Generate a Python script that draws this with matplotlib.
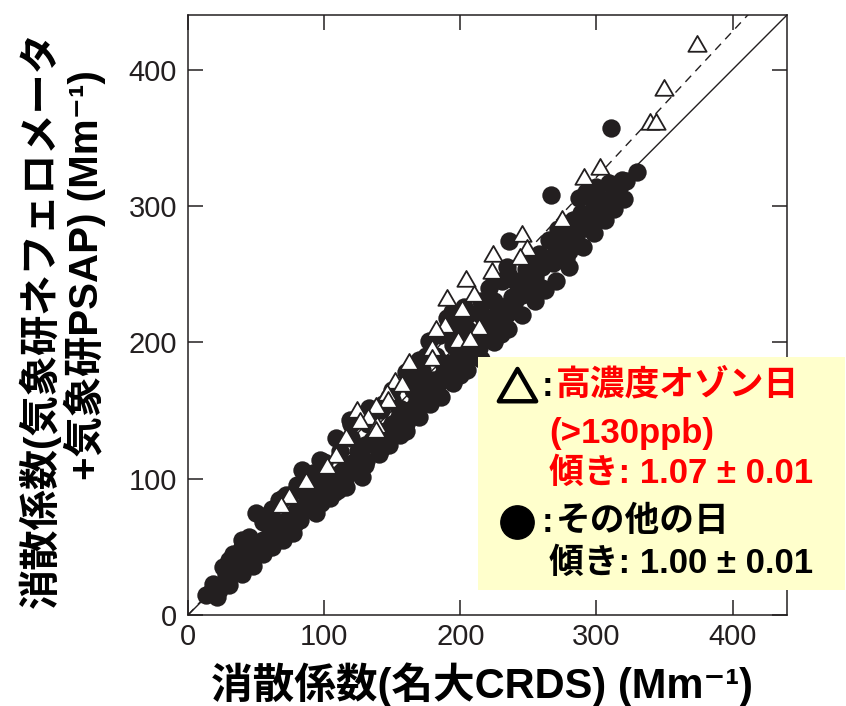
import numpy as np
import matplotlib
matplotlib.use("Agg")
import matplotlib.pyplot as plt
from matplotlib.patches import Rectangle
from matplotlib.path import Path
from matplotlib.lines import Line2D

plt.rcParams['font.family'] = ['Liberation Sans', 'Noto Sans CJK JP', 'DejaVu Sans']

# 高濃度オゾン日 (>130ppb)
tri_x = [374, 350, 339, 344, 303, 291, 275, 245, 249, 224, 244, 223, 204, 190, 210,
         201, 214, 189, 198, 207, 182, 179, 179, 162, 152, 157, 146, 147, 124, 138,
         132, 126, 139, 138, 116, 109, 102, 87, 74, 68]
tri_y = [417, 385, 360, 360, 327, 320, 289, 278, 268, 263, 261, 251, 245, 231, 234,
         223, 210, 211, 200, 201, 208, 194, 187, 184, 170, 168, 161, 156, 149, 152,
         144, 141, 138, 134, 129, 116, 108, 97, 86, 79]

# その他の日
dot_x = [311, 330, 267, 236,
         292, 300, 309, 318, 304, 304, 287, 298, 314, 283, 289, 319, 322,
         278, 287, 292, 265, 275, 280, 278, 270, 272,
         248, 252, 234, 231, 221, 234, 216, 249, 238, 248, 226, 214, 203, 194, 221, 234,
         190, 201, 219, 214, 197, 177, 187, 170, 165, 177, 155, 170, 207, 196, 185, 188,
         163, 141, 126, 114, 99, 89, 80, 65, 70, 84, 97, 109, 119, 133, 148, 128, 116,
         104, 94, 153, 165, 111,
         50, 67, 80, 82, 77, 60, 45, 50, 33, 38, 26, 18, 16, 23, 31, 40, 55, 65, 29, 21, 13,
         20, 25, 28, 35, 36, 42, 45, 48, 52, 58, 62, 70, 72, 75, 85, 88, 92, 95, 100, 105,
         108, 112, 118, 122, 125, 130, 135, 138, 145, 150, 155, 158, 160, 168, 172, 175,
         180, 183, 190, 192, 198, 205, 208, 212, 218, 225, 228, 240, 245, 255, 260, 262,
         268, 285, 295, 300, 305, 310, 315,
         30, 40, 48, 55, 62, 70, 78, 90, 98, 108, 115, 120, 130, 140, 148, 160, 170, 178,
         186, 195, 205, 215, 225, 235, 245, 255, 262, 270, 280, 290, 298, 306, 313, 320,
         30, 40, 55, 60, 75, 90, 100, 112, 120, 132, 142, 150, 165, 172, 182, 195, 205,
         215, 225, 240, 250, 258, 270, 280,
         120, 128, 135, 143, 150, 160, 175, 185, 195, 205, 215, 225, 235, 100, 92, 80,
         72, 62, 58, 131, 110, 142, 156, 168, 200, 230, 260]
dot_y = [357, 325, 308, 274,
         310, 314, 317, 316, 305, 298, 306, 300, 311, 290, 295, 319, 318,
         287, 288, 284, 275, 273, 267, 262, 267, 283,
         254, 242, 255, 245, 240, 226, 229, 242, 233, 238, 219, 222, 226, 222, 218, 221,
         218, 214, 204, 196, 205, 201, 185, 187, 172, 165, 152, 155, 190, 180, 174, 178,
         145, 128, 116, 106, 99, 89, 77, 67, 86, 106, 114, 130, 143, 152, 160, 101, 94,
         86, 75, 138, 152, 99,
         75, 84, 92, 70, 60, 64, 57, 45, 45, 33, 35, 23, 16, 18, 31, 50, 55, 60, 26, 13, 15,
         20, 22, 30, 38, 32, 40, 48, 42, 50, 52, 58, 68, 62, 72, 80, 84, 88, 95, 92, 100,
         98, 104, 110, 112, 120, 125, 128, 124, 135, 140, 145, 150, 140, 158, 162, 170,
         172, 168, 178, 185, 190, 195, 205, 200, 210, 212, 225, 230, 235, 248, 255, 262,
         258, 278, 290, 295, 300, 300, 310,
         22, 30, 36, 45, 50, 55, 66, 78, 82, 90, 100, 105, 110, 118, 125, 135, 145, 155,
         160, 170, 180, 188, 200, 210, 220, 230, 238, 245, 255, 270, 280, 290, 298, 305,
         40, 55, 68, 75, 88, 100, 108, 120, 130, 140, 150, 158, 165, 180, 190, 198, 210,
         220, 230, 245, 258, 265, 275, 282,
         140, 146, 148, 155, 165, 178, 190, 205, 212, 220, 230, 245, 250, 112, 104, 95,
         88, 78, 70, 113, 92, 122, 132, 146, 176, 206, 240]

slope_ozone = 1.07
slope_other = 1.00
ticks = [0, 100, 200, 300, 400]

W, H = 846, 706
ink = '#231f20'

fig = plt.figure(figsize=(W / 100, H / 100), dpi=100)
ax = fig.add_axes([188 / W, 91 / H, 599 / W, 600 / H])

line_x = np.array([0, 440])
ax.plot(line_x, slope_other * line_x, color=ink, lw=1.0, zorder=1)
ax.plot(line_x, slope_ozone * line_x, color=ink, lw=1.0, dashes=(6, 4.5), zorder=1)

ax.scatter(dot_x, dot_y, s=175, marker='o', color=ink, linewidths=0, zorder=2)
tri = Path.unit_regular_polygon(3)
ax.scatter(tri_x, tri_y, s=230, marker=tri, facecolor='white', edgecolor=ink,
           linewidths=1.3, zorder=3)

ax.set_xlim(0, 440)
ax.set_ylim(0, 440)
ax.set_xticks(ticks)
ax.set_yticks(ticks)
ax.tick_params(direction='in', length=11, width=1.1, top=True, right=True,
               labelsize=21, color=ink, labelcolor=ink)
ax.tick_params(axis='x', pad=6)
ax.tick_params(axis='y', pad=8)
for lab in ax.get_xticklabels() + ax.get_yticklabels():
    lab.set_family('Liberation Sans')
for sp in ax.spines.values():
    sp.set_linewidth(1.1)
    sp.set_color(ink)

# axis labels
fig.text(482 / W, 1 - 685 / H, '消散係数(名大CRDS) (Mm⁻¹)', ha='center', va='center',
         fontsize=30, weight='bold')
fig.text(40 / W, 1 - 320 / H, '消散係数(気象研ネフェロメータ', rotation=90,
         ha='center', va='center', fontsize=29, weight='bold')
fig.text(85 / W, 1 - 275 / H, '+気象研PSAP) (Mm⁻¹)', rotation=90,
         ha='center', va='center', fontsize=29, weight='bold')

# legend box
fig.patches.append(Rectangle((478 / W, 1 - 590 / H), (845 - 478) / W, (590 - 357) / H,
                             transform=fig.transFigure, facecolor='#FFFFCC',
                             edgecolor='none', zorder=5))

def ftext(px, py, s, color='black', ha='left', size=25):
    fig.text(px / W, 1 - py / H, s, ha=ha, va='center', fontsize=size, weight='bold',
             color=color, zorder=6)

def fmark(px, py, **kw):
    fig.add_artist(Line2D([px / W], [1 - py / H], transform=fig.transFigure,
                          linestyle='none', zorder=6, **kw))

fmark(517, 390, marker=tri, markersize=31, markerfacecolor='none',
      markeredgecolor='black', markeredgewidth=3.2)
fmark(517, 522, marker='o', markersize=24, markerfacecolor='black',
      markeredgecolor='black')
ftext(547, 387, ':', ha='center')
ftext(556, 385, '高濃度オゾン日', color='red')
ftext(549, 433, '(>130ppb)', color='red')
ftext(549, 473, '傾き: 1.07 ± 0.01', color='red')
ftext(547, 522, ':', ha='center')
ftext(556, 522, 'その他の日')
ftext(549, 563, '傾き: 1.00 ± 0.01')

fig.savefig('out.png', dpi=100)
